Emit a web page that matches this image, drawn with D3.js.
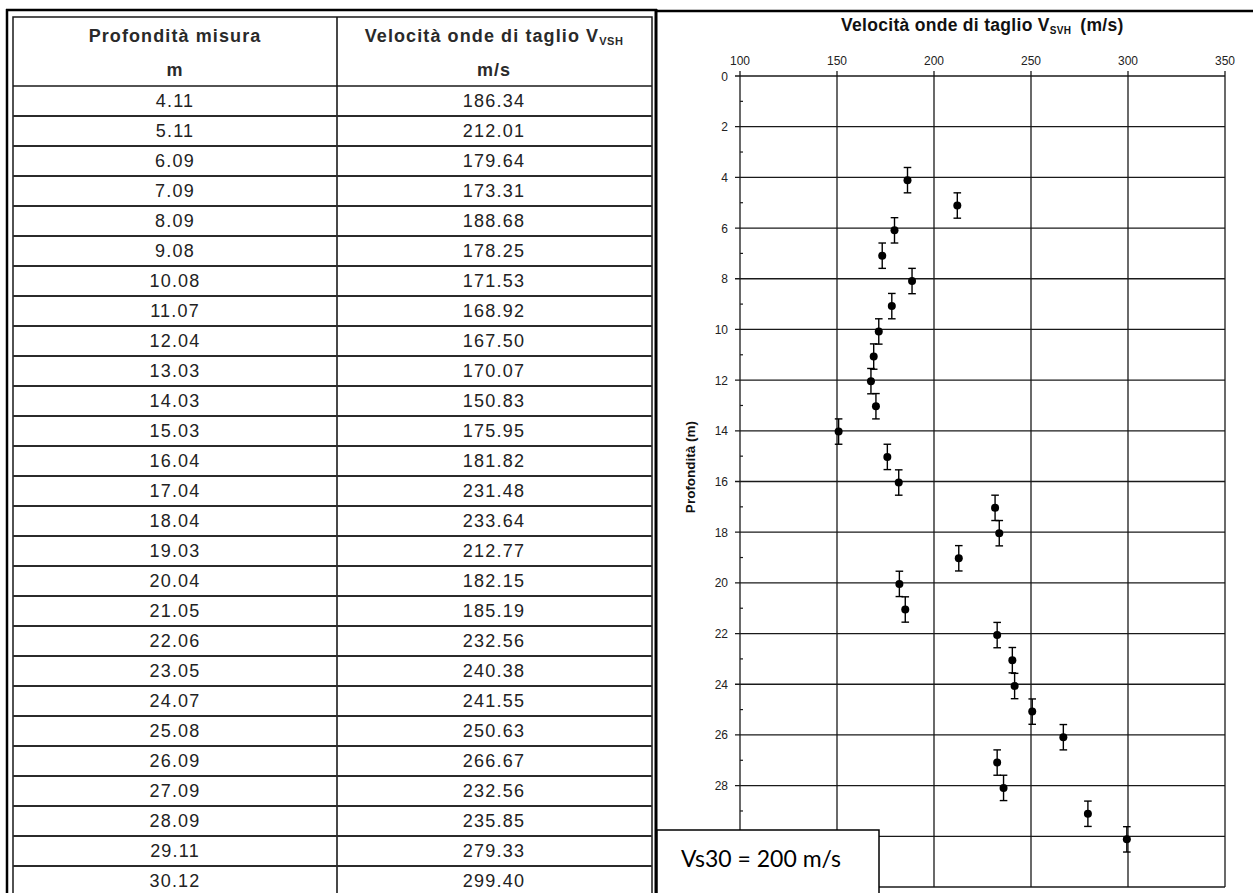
<!DOCTYPE html>
<html>
<head>
<meta charset="utf-8">
<script src="https://cdn.jsdelivr.net/npm/d3@7/dist/d3.min.js"></script>
<style>
	body { margin: 0; background: #fff; }
	svg { display: block; }
	svg { font-family: "Liberation Sans", Arial, sans-serif; }
</style>
</head>
<body>
<svg id="chart" width="1253" height="893"></svg>
<script>
// measured depth (m) and shear wave velocity (m/s), as in the table
var depths = [4.11, 5.11, 6.09, 7.09, 8.09, 9.08, 10.08, 11.07, 12.04, 13.03, 14.03, 15.03, 16.04, 17.04,
	18.04, 19.03, 20.04, 21.05, 22.06, 23.05, 24.07, 25.08, 26.09, 27.09, 28.09, 29.11, 30.12];
var velocities = [186.34, 212.01, 179.64, 173.31, 188.68, 178.25, 171.53, 168.92, 167.50, 170.07, 150.83,
	175.95, 181.82, 231.48, 233.64, 212.77, 182.15, 185.19, 232.56, 240.38, 241.55, 250.63, 266.67,
	232.56, 235.85, 279.33, 299.40];
// half length of the depth error bars (m)
var depthError = 0.5;

// axis ticks
var xTicks = [100, 150, 200, 250, 300, 350];
var yTicks = d3.range(0, 31, 2);
var yMinorTicks = d3.range(1, 32, 2);

// texts
var colHeaders = ["Profondità misura", "Velocità onde di taglio V"];
var colUnits = ["m", "m/s"];
var chartTitle = "Velocità onde di taglio V";
var yTitle = "Profondità (m)";
var vs30Label = "Vs30 = 200 m/s";

var svg = d3.select("#chart");
var ink = "#1a1a1a";

// ---------------- table ----------------
var table = svg.append("g");
var colX = d3.scaleOrdinal().domain([0, 1]).range([175, 494]);
var rowY = d3.scaleBand().domain(d3.range(depths.length)).range([86, 86 + depths.length * 30]);

// frames
table.append("line").attr("x1", 7).attr("y1", 9).attr("x2", 7).attr("y2", 893)
	.attr("stroke", "#000").attr("stroke-width", 2.5);
table.append("line").attr("x1", 6).attr("y1", 10).attr("x2", 657).attr("y2", 10)
	.attr("stroke", "#000").attr("stroke-width", 2.5);
table.append("line").attr("x1", 656).attr("y1", 9).attr("x2", 656).attr("y2", 893)
	.attr("stroke", "#000").attr("stroke-width", 3);
table.append("rect").attr("x", 13).attr("y", 17).attr("width", 639).attr("height", 890)
	.attr("fill", "none").attr("stroke", ink).attr("stroke-width", 1.5);
table.append("line").attr("x1", 337).attr("y1", 17).attr("x2", 337).attr("y2", 893)
	.attr("stroke", ink).attr("stroke-width", 1.6);
table.append("line").attr("x1", 13).attr("y1", 86).attr("x2", 652).attr("y2", 86)
	.attr("stroke", ink).attr("stroke-width", 1.6);

// header
var head = table.selectAll(".head").data(colHeaders).enter().append("text")
	.attr("class", "head")
	.attr("x", function(d, i) { return colX(i); })
	.attr("y", 42)
	.attr("text-anchor", "middle")
	.attr("font-size", 18).attr("font-weight", "bold").attr("letter-spacing", 1.1)
	.attr("fill", "#2a2a2a")
	.text(function(d) { return d; });
// subscript of the velocity header
head.filter(function(d, i) { return i == 1; })
	.append("tspan").attr("font-size", 11).attr("dy", 3).attr("letter-spacing", 0.5).text("VSH");

table.selectAll(".unit").data(colUnits).enter().append("text")
	.attr("x", function(d, i) { return colX(i); })
	.attr("y", 76)
	.attr("text-anchor", "middle")
	.attr("font-size", 18).attr("font-weight", "bold").attr("letter-spacing", 1)
	.attr("fill", "#2a2a2a")
	.text(function(d) { return d; });

// rows
var rows = table.selectAll(".row").data(depths).enter().append("g")
	.attr("class", "row")
	.attr("transform", function(d, i) { return "translate(0," + rowY(i) + ")"; });
rows.append("line")
	.attr("x1", 13).attr("x2", 652)
	.attr("y1", rowY.bandwidth()).attr("y2", rowY.bandwidth())
	.attr("stroke", "#2b2b2b").attr("stroke-width", 2);
rows.append("text")
	.attr("x", colX(0)).attr("y", 21)
	.attr("text-anchor", "middle")
	.attr("font-size", 18).attr("letter-spacing", 1.2).attr("fill", "#222")
	.text(function(d) { return d.toFixed(2); });
rows.append("text")
	.attr("x", colX(1)).attr("y", 21)
	.attr("text-anchor", "middle")
	.attr("font-size", 18).attr("letter-spacing", 1.2).attr("fill", "#222")
	.text(function(d, i) { return velocities[i].toFixed(2); });

// ---------------- chart ----------------
svg.append("line").attr("x1", 657).attr("y1", 11).attr("x2", 1253).attr("y2", 11)
	.attr("stroke", "#000").attr("stroke-width", 2.5);

var x = d3.scaleLinear().domain([100, 350]).range([740, 1225]);
var y = d3.scaleLinear().domain([0, 32]).range([76, 887]);

var plot = svg.append("g");

// grid
plot.selectAll(".vgrid").data(xTicks).enter().append("line")
	.attr("x1", function(d) { return x(d); }).attr("x2", function(d) { return x(d); })
	.attr("y1", y(0) - 5).attr("y2", y(32))
	.attr("stroke", ink).attr("stroke-width", 1.3);
plot.selectAll(".hgrid").data(d3.range(0, 33, 2)).enter().append("line")
	.attr("x1", function(d) { return d == 32 ? x(100) : x(100) - 5; }).attr("x2", x(350))
	.attr("y1", function(d) { return y(d); }).attr("y2", function(d) { return y(d); })
	.attr("stroke", ink).attr("stroke-width", 1.3);
plot.selectAll(".minor").data(yMinorTicks).enter().append("line")
	.attr("x1", x(100)).attr("x2", x(100) + 3)
	.attr("y1", function(d) { return y(d); }).attr("y2", function(d) { return y(d); })
	.attr("stroke", ink).attr("stroke-width", 1.2);

// tick labels
plot.selectAll(".xlab").data(xTicks).enter().append("text")
	.attr("x", function(d) { return x(d); }).attr("y", 65)
	.attr("text-anchor", "middle").attr("font-size", 12).attr("fill", "#222")
	.text(function(d) { return d; });
plot.selectAll(".ylab").data(yTicks).enter().append("text")
	.attr("x", 728).attr("y", function(d) { return y(d) + 4.5; })
	.attr("text-anchor", "end").attr("font-size", 12).attr("fill", "#222")
	.text(function(d) { return d; });

// titles
var title = svg.append("text").attr("x", 841).attr("y", 31)
	.attr("font-size", 17.5).attr("font-weight", "bold").attr("letter-spacing", 0.3).attr("fill", "#111")
	.text(chartTitle);
title.append("tspan").attr("font-size", 10).attr("dy", 3).text("SVH");
title.append("tspan").attr("dy", -3).attr("dx", 9).text("(m/s)");

svg.append("text")
	.attr("transform", "translate(695," + 467 + ") rotate(-90)")
	.attr("text-anchor", "middle").attr("font-size", 13.5).attr("font-weight", "bold").attr("fill", "#111")
	.text(yTitle);

// error bars and points
var pts = plot.selectAll(".pt").data(depths).enter().append("g").attr("class", "pt");
pts.append("line")
	.attr("x1", function(d, i) { return x(velocities[i]); }).attr("x2", function(d, i) { return x(velocities[i]); })
	.attr("y1", function(d) { return y(d - depthError); }).attr("y2", function(d) { return y(d + depthError); })
	.attr("stroke", "#000").attr("stroke-width", 1.4);
[-1, 1].forEach(function(s) {
	pts.append("line")
		.attr("x1", function(d, i) { return x(velocities[i]) - 3.8; }).attr("x2", function(d, i) { return x(velocities[i]) + 3.8; })
		.attr("y1", function(d) { return y(d + s * depthError); }).attr("y2", function(d) { return y(d + s * depthError); })
		.attr("stroke", "#000").attr("stroke-width", 1.4);
});
pts.append("circle")
	.attr("cx", function(d, i) { return x(velocities[i]); })
	.attr("cy", function(d) { return y(d); })
	.attr("r", 4).attr("fill", "#000");

// Vs30 box
svg.append("rect").attr("x", 657).attr("y", 830).attr("width", 222).attr("height", 80)
	.attr("fill", "#fff").attr("stroke", "#000").attr("stroke-width", 1.5);
svg.append("text").attr("x", 681).attr("y", 867)
	.style("font-family", "Lato, 'Open Sans', sans-serif").attr("font-size", 23).attr("fill", "#000")
	.text(vs30Label);
</script>
</body>
</html>
